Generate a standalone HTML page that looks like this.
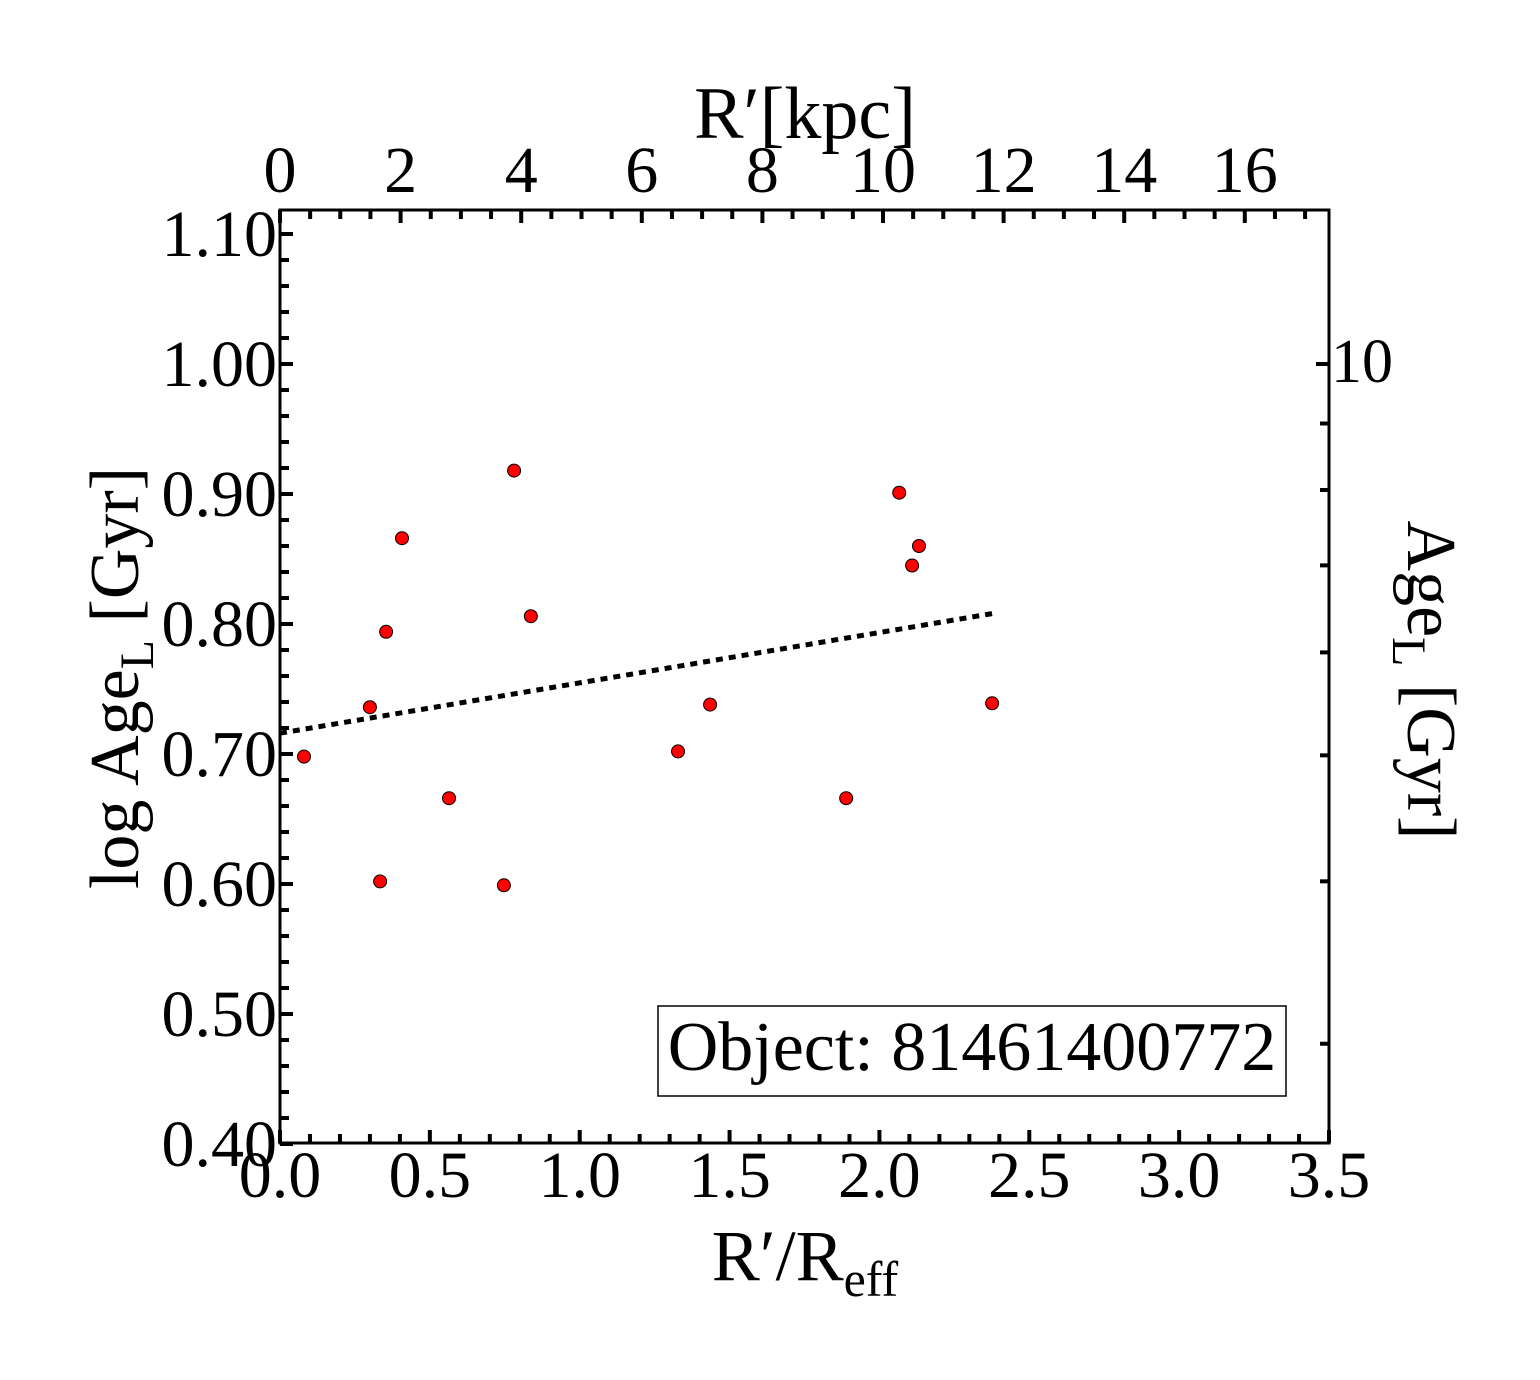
<!DOCTYPE html>
<html><head><meta charset="utf-8"><style>
body{margin:0;background:#fff}
svg text{font-family:"Liberation Serif",serif;fill:#000}
</style></head><body>
<svg id="c" width="1540" height="1375" xmlns="http://www.w3.org/2000/svg"></svg>
<script>
const xVals=[0.08,0.30,0.354,0.334,0.407,0.564,0.747,0.781,0.837,1.328,1.435,1.889,2.066,2.109,2.132,2.376];
const yVals=[0.698,0.736,0.794,0.602,0.866,0.666,0.599,0.918,0.806,0.702,0.738,0.666,0.901,0.845,0.860,0.739];
const fitX=[0,2.376];
const fitY=[0.716,0.808];
const xTicks=["0.0","0.5","1.0","1.5","2.0","2.5","3.0","3.5"];
const yTicks=["0.40","0.50","0.60","0.70","0.80","0.90","1.00","1.10"];
const kpcTicks=["0","2","4","6","8","10","12","14","16"];
const ageTicks=[3,4,5,6,7,8,9,10];
const L=280,R=1329,T=210,B=1143;
const X=v=>L+v*(R-L)/3.5;
const Y=v=>1144-(v-0.40)*1300;
const K=v=>L+v*60.3;
const svg=document.getElementById('c');
const NS='http://www.w3.org/2000/svg';
function el(t,a,p){const e=document.createElementNS(NS,t);for(const k in a)e.setAttribute(k,a[k]);(p||svg).appendChild(e);return e;}
function line(x1,y1,x2,y2,w){return el('line',{x1,y1,x2,y2,stroke:'#000','stroke-width':w||4});}
function txt(s,x,y,sz,anchor){const t=el('text',{x,y,'font-size':sz,'text-anchor':anchor||'middle'});t.textContent=s;return t;}
const frame=el('rect',{x:L,y:T,width:R-L,height:B-T,fill:'none',stroke:'#000','stroke-width':3});

for(let i=0;i<=35;i++){const v=i/10,maj=i%5==0;line(X(v),B,X(v),B-(maj?13:9));}
xTicks.forEach(s=>{const t=txt(s,X(+s),1197,66);});
for(let i=0;i<=35;i++){const v=0.40+i*0.02;if(Y(v)<T)continue;const maj=i%5==0;line(L,Y(v),L+(maj?13:9),Y(v));}
yTicks.forEach(s=>{const t=txt(s,277,Y(+s)+22,66,'end');});
for(let i=0;i<=34;i++){const v=i/2;if(K(v)>R)break;const maj=i%4==0;line(K(v),T,K(v),T+(maj?13:9));}
kpcTicks.forEach(s=>{const t=txt(s,K(+s),192,66);});
ageTicks.forEach(a=>{const y=Y(Math.log10(a));line(R,y,R-(a==10?13:9),y);});
const r10=txt("10",1331,382,62,'start');
const fit=el('line',{x1:X(fitX[0]),y1:Y(fitY[0]),x2:X(fitX[1]),y2:Y(fitY[1]),stroke:'#000','stroke-width':5,'stroke-dasharray':'7 6'});

xVals.forEach((xv,i)=>{const c=el('circle',{cx:X(xv),cy:Y(yVals[i]),r:6.5,fill:'#f00',stroke:'#000','stroke-width':1});
});
const box=el('rect',{x:658,y:1006,width:628,height:90,fill:'#fff',stroke:'#000','stroke-width':1.5});

const ol=txt("Object: 81461400772",972,1070,70);
const xt=el('text',{x:805,y:1280,'font-size':72,'text-anchor':'middle'});xt.innerHTML='R′/R<tspan font-size="50" dy="16">eff</tspan>';

const tt=el('text',{x:805,y:138,'font-size':74,'text-anchor':'middle'});tt.textContent='R′[kpc]';

const yt=el('text',{x:0,y:0,'font-size':70,'text-anchor':'middle',transform:'translate(138,678) rotate(-90)'});yt.innerHTML='log Age<tspan font-size="48" dy="15">L</tspan><tspan dy="-15"> [Gyr]</tspan>';

const rt=el('text',{x:0,y:0,'font-size':70,'text-anchor':'middle',transform:'translate(1408,680) rotate(90)'});rt.innerHTML='Age<tspan font-size="48" dy="15">L</tspan><tspan dy="-15"> [Gyr]</tspan>';

</script>
</body></html>
